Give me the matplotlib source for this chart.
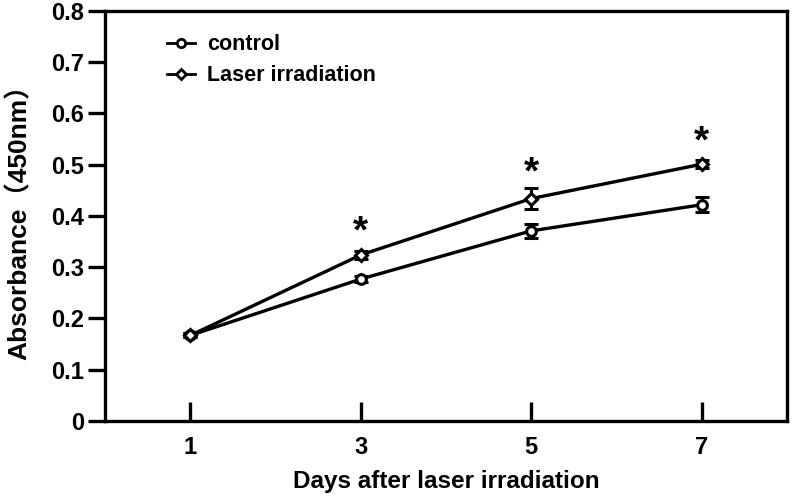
import matplotlib
matplotlib.use("Agg")
import matplotlib.pyplot as plt
from matplotlib.lines import Line2D

# ============ Data ============
days = [1, 3, 5, 7]
control = [0.167, 0.277, 0.371, 0.422]
control_err = [0.004, 0.005, 0.014, 0.015]
laser = [0.167, 0.324, 0.434, 0.501]
laser_err = [0.004, 0.008, 0.020, 0.008]
star_days = [3, 5, 7]
star_y = [0.368, 0.482, 0.543]

plt.rcParams["font.family"] = ["Liberation Sans", "Noto Sans CJK SC", "DejaVu Sans"]
plt.rcParams["font.weight"] = "bold"

fig = plt.figure(figsize=(7.92, 4.99), dpi=100)
ax = fig.add_axes([0.1326, 0.1563, 0.9937 - 0.1326, 0.978 - 0.1563])

lw = 2.4
ax.errorbar(days, control, yerr=control_err, color="black", lw=lw,
            marker="o", ms=7, mfc="white", mec="black", mew=2.2,
            capsize=5, capthick=2.2, elinewidth=2.2, zorder=3)
ax.errorbar(days, laser, yerr=laser_err, color="black", lw=lw,
            marker="D", ms=6, mfc="white", mec="black", mew=2.2,
            capsize=5, capthick=2.2, elinewidth=2.2, zorder=3)

for d, y in zip(star_days, star_y):
    ax.text(d, y, "*", ha="center", va="center", fontsize=28, fontweight="bold")

ax.set_xlim(0, 8)
ax.set_ylim(0, 0.8)
ax.set_xticks(days)
ax.set_xticklabels([str(d) for d in days])
ax.set_yticks([0, 0.1, 0.2, 0.3, 0.4, 0.5, 0.6, 0.7, 0.8])
ax.set_yticklabels(["0", "0.1", "0.2", "0.3", "0.4", "0.5", "0.6", "0.7", "0.8"])

for s in ax.spines.values():
    s.set_linewidth(2.4)
ax.tick_params(axis="y", direction="out", length=12, width=2.4, labelsize=17, pad=3)
ax.tick_params(axis="x", direction="in", length=14, width=2.4, labelsize=17, pad=11)

ax.set_xlabel("Days after laser irradiation", fontsize=17.5, fontweight="bold", labelpad=8)
ax.set_ylabel("Absorbance（450nm）", fontsize=19, fontweight="bold", labelpad=14)

handles = [
    Line2D([], [], color="black", lw=2, marker="o", ms=6, mfc="white", mec="black", mew=2),
    Line2D([], [], color="black", lw=2, marker="D", ms=5, mfc="white", mec="black", mew=2),
]
ax.legend(handles, ["control", "Laser irradiation"], loc="upper left",
          bbox_to_anchor=(0.063, 0.99), frameon=False, fontsize=15.5,
          handlelength=1.3, handletextpad=0.55, labelspacing=0.45)

fig.savefig("out.png", dpi=100)
